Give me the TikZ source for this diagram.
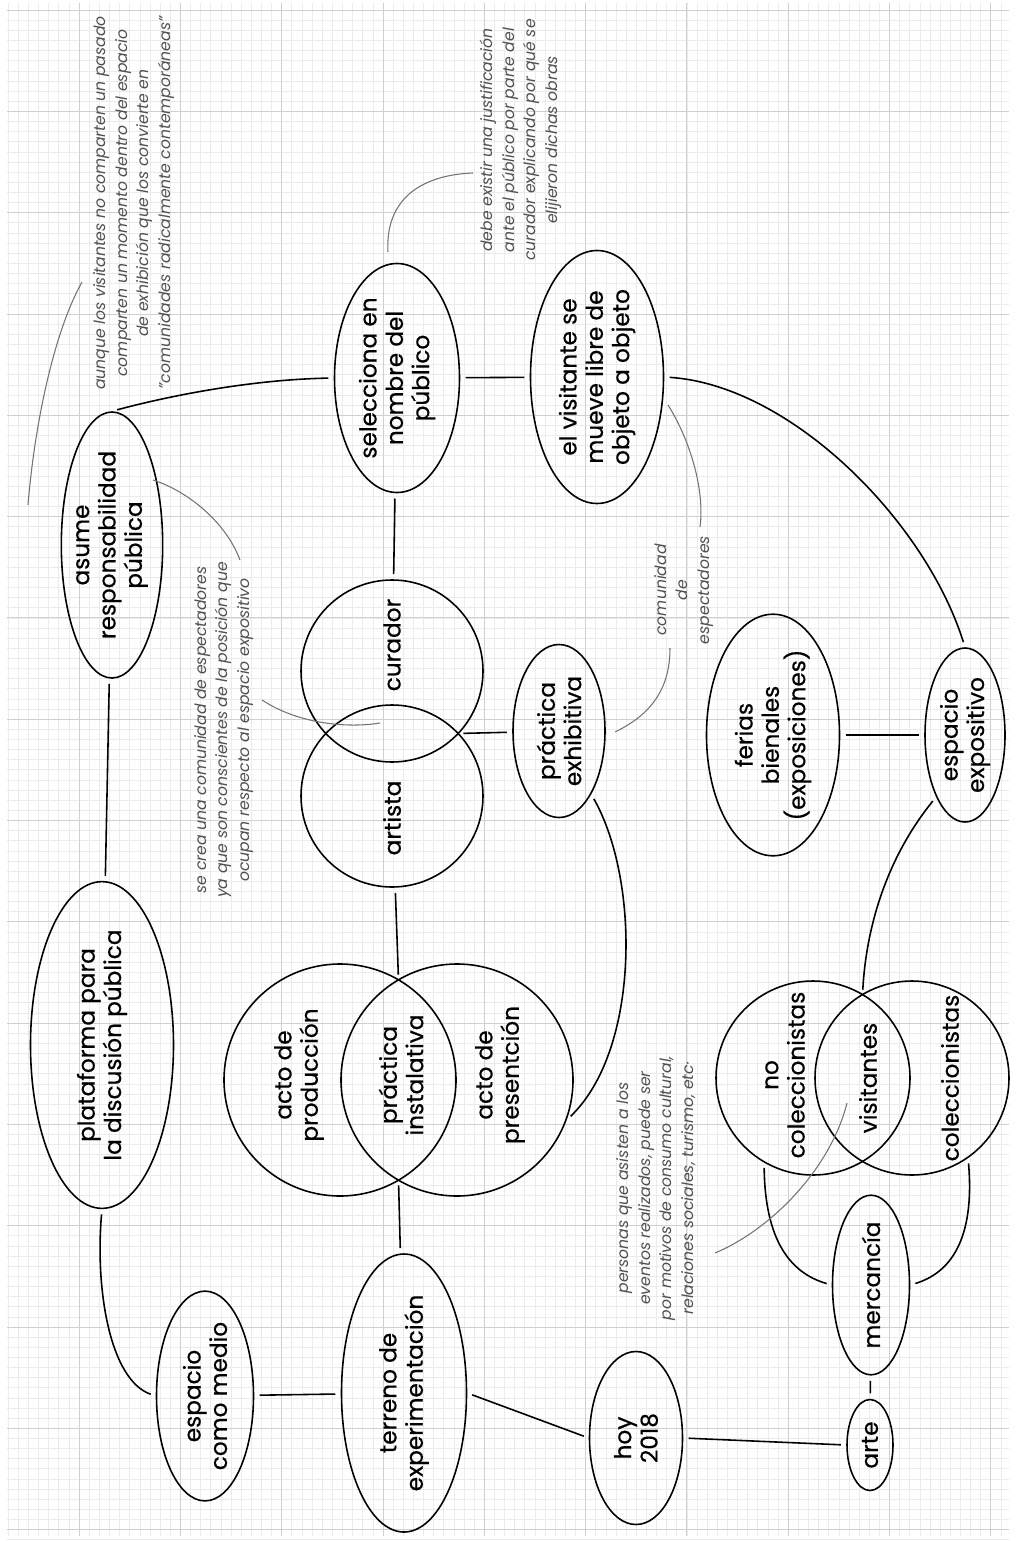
\documentclass[tikz,border=0pt]{standalone}
\usepackage{fontspec}
\setmainfont{Poppins}
\newfontfamily\ideafamily{Poppins}[FakeBold=0.5]
\usetikzlibrary{shapes.geometric}

\definecolor{gridminor}{HTML}{EBEBEB}
\definecolor{gridmajor}{HTML}{D0D0D0}
\definecolor{notegray}{HTML}{505050}

\newcommand{\ideafnt}{\ideafamily\fontsize{13.2}{15}\selectfont}
\newcommand{\notafnt}{\fontsize{8.9}{12.3}\selectfont\itshape}

\begin{document}
\begin{tikzpicture}[x=0.02cm, y=-0.02cm]

\tikzstyle{idea} = [ellipse, draw, line width=0.9pt, rotate=90, align=center, inner sep=0pt, font=\ideafnt]
\tikzstyle{lbl} = [rotate=90, align=center, inner sep=0pt, font=\ideafnt]
\tikzstyle{nota} = [rotate=90, align=center, inner sep=0pt, font=\notafnt, text=notegray]
\tikzstyle{link} = [line width=0.9pt, shorten <=3pt, shorten >=3pt]
\tikzstyle{remark} = [draw=black!55, line width=0.6pt]
\tikzset{
  ell/.style 2 args={minimum width={#1*0.02cm}, minimum height={#2*0.02cm}},
  venn/.style={circle, draw, line width=0.9pt, inner sep=0pt, minimum size={#1*0.02cm}},
}

\useasboundingbox (0,0) rectangle (1015,1541);
\fill[white] (0,0) rectangle (1015,1541);

% grid paper
\foreach \i in {0,...,98}
  \draw[gridminor, line width=0.3pt] ({8.1+10.13*\i},3) -- ({8.1+10.13*\i},1536);
\foreach \j in {0,...,151}
  \draw[gridminor, line width=0.3pt] (7,{10+10.13*\j}) -- (1009,{10+10.13*\j});
\foreach \i in {0,...,9}
  \draw[gridmajor, line width=0.4pt] ({79+101.3*\i},3) -- ({79+101.3*\i},1536);
\foreach \j in {0,...,15}
  \draw[gridmajor, line width=0.4pt] (7,{10+101.3*\j}) -- (1009,{10+101.3*\j});

% ideas
\node[idea, ell={195}{97}, at={(112,545)}] (asume) {asume\\responsabilidad\\pública};
\node[idea, ell={274}{143}, at={(102,1045)}] (plat) {plataforma para\\la discusión pública};
\node[idea, ell={229}{125}, at={(397,378)}] (sel) {selecciona en\\nombre del\\público};
\node[idea, ell={253}{133}, at={(597,377)}] (vis) {el visitante se\\mueve libre de\\objeto a objeto};
\node[idea, ell={198}{97}, at={(205,1396)}] (medio) {espacio\\como medio};
\node[idea, ell={243}{125}, at={(404,1393)}] (terr) {terreno de\\experimentación};
\node[idea, ell={173}{93}, at={(636,1438)}] (hoy) {hoy\\2018};
\node[idea, ell={91}{46}, at={(870,1445)}] (arte) {arte};
\node[idea, ell={142}{77}, at={(871,1285)}] (merc) {mercancía};
\node[idea, ell={173}{92}, at={(559,731)}] (pexh) {práctica\\exhibitiva};
\node[idea, ell={226}{133}, at={(773,735)}] (ferias) {ferias\\bienales\\(exposiciones)};
\node[idea, ell={174}{80}, at={(965,735)}] (espexp) {espacio\\expositivo};

% venn circles
\node[venn=182, at={(392,671)}] (cur) {};
\node[venn=182, at={(392,796)}] (art) {};
\node[venn=232, at={(340,1080)}] (prod) {};
\node[venn=232, at={(457,1080)}] (pres) {};
\node[venn=194, at={(813,1078)}] (nocol) {};
\node[venn=194, at={(912,1078)}] (col) {};

\node[lbl, at={(392,645)}] (lcur) {curador};
\node[lbl, at={(392,818)}] (lart) {artista};
\node[lbl, at={(299,1075)}] (lprod) {acto de\\producción};
\node[lbl, at={(401,1075)}] (linst) {práctica\\instalativa};
\node[lbl, at={(500,1075)}] (lpres) {acto de\\presentción};
\node[lbl, at={(785,1075)}] (lnocol) {no\\coleccionistas};
\node[lbl, at={(868,1078)}] (lvis) {visitantes};
\node[lbl, at={(950,1078)}] (lcol) {coleccionistas};

\coordinate (lensR) at (458,733.5);
\coordinate (instTop) at (398.5,980);
\coordinate (instBot) at (398.5,1180);
\coordinate (visTop) at (862.5,995);

% notes
\node[nota, at={(134,203)}] (n1) {aunque los visitantes no comparten un pasado\\comparten un momento dentro del espacio\\de exhibición que los convierte en\\"comunidades radicalmente contemporáneas"};
\node[nota, at={(521,140)}] (n2) {debe existir una justificación\\ante el público por parte del\\curador explicando por qué se\\elijieron dichas obras};
\node[nota, at={(224,730)}] (n3) {se crea una comunidad de espectadores\\ya que son conscientes de la posición que\\ocupan respecto al espacio expositivo};
\node[nota, at={(684,590)}] (n4) {comunidad\\de\\espectadores};
\node[nota, at={(656,1188)}] (n5) {personas que asisten a los\\eventos realizados, puede ser\\por motivos de consumo cultural,\\relaciones sociales, turismo, etc·};

% straight links
\draw[link] (asume) -- (plat);
\draw[link] (sel) -- (vis);
\draw[link] (sel) -- (cur);
\draw[link] (art) -- (instTop);
\draw[link] (instBot) -- (terr);
\draw[link] (lensR) -- (pexh);
\draw[link] (medio) -- (terr);
\draw[link] (terr.south) -- (hoy.north);
\draw[link] (hoy.south) -- (arte.north);
\draw[link] (arte) -- (merc);
\draw[link] (ferias) -- (espexp);

% curved links
\draw[link] (asume.east) .. controls (135,405) and (230,380) .. (sel.north);
\draw[link] (vis.south) .. controls (790,385) and (925,520) .. (espexp.east);
\draw[link] (pexh.207) .. controls (640,880) and (640,1050) .. (pres.-20);
\draw[link] (plat.west) .. controls (95,1290) and (110,1380) .. (medio.north);
\draw[link] (espexp.155) .. controls (885,860) and (866,930) .. (visTop);
\draw[link] (nocol.240) .. controls (765,1240) and (790,1273) .. (merc.north);
\draw[link] (col.-55) .. controls (975,1240) and (950,1273) .. (merc.south);

% remarks
\draw[remark] (28,505) .. controls (35,420) and (55,330) .. (82,282);
\draw[remark] (153,480) .. controls (185,490) and (225,520) .. (240,560);
\draw[remark] (262,700) .. controls (300,725) and (350,728) .. (380,723);
\draw[remark] (388,252) .. controls (385,200) and (420,175) .. (473,173);
\draw[remark] (668,405) .. controls (690,440) and (705,490) .. (700,527);
\draw[remark] (615,732) .. controls (650,715) and (670,690) .. (670,648);
\draw[remark] (715,1253) .. controls (770,1230) and (830,1170) .. (847,1103);

\end{tikzpicture}
\end{document}
